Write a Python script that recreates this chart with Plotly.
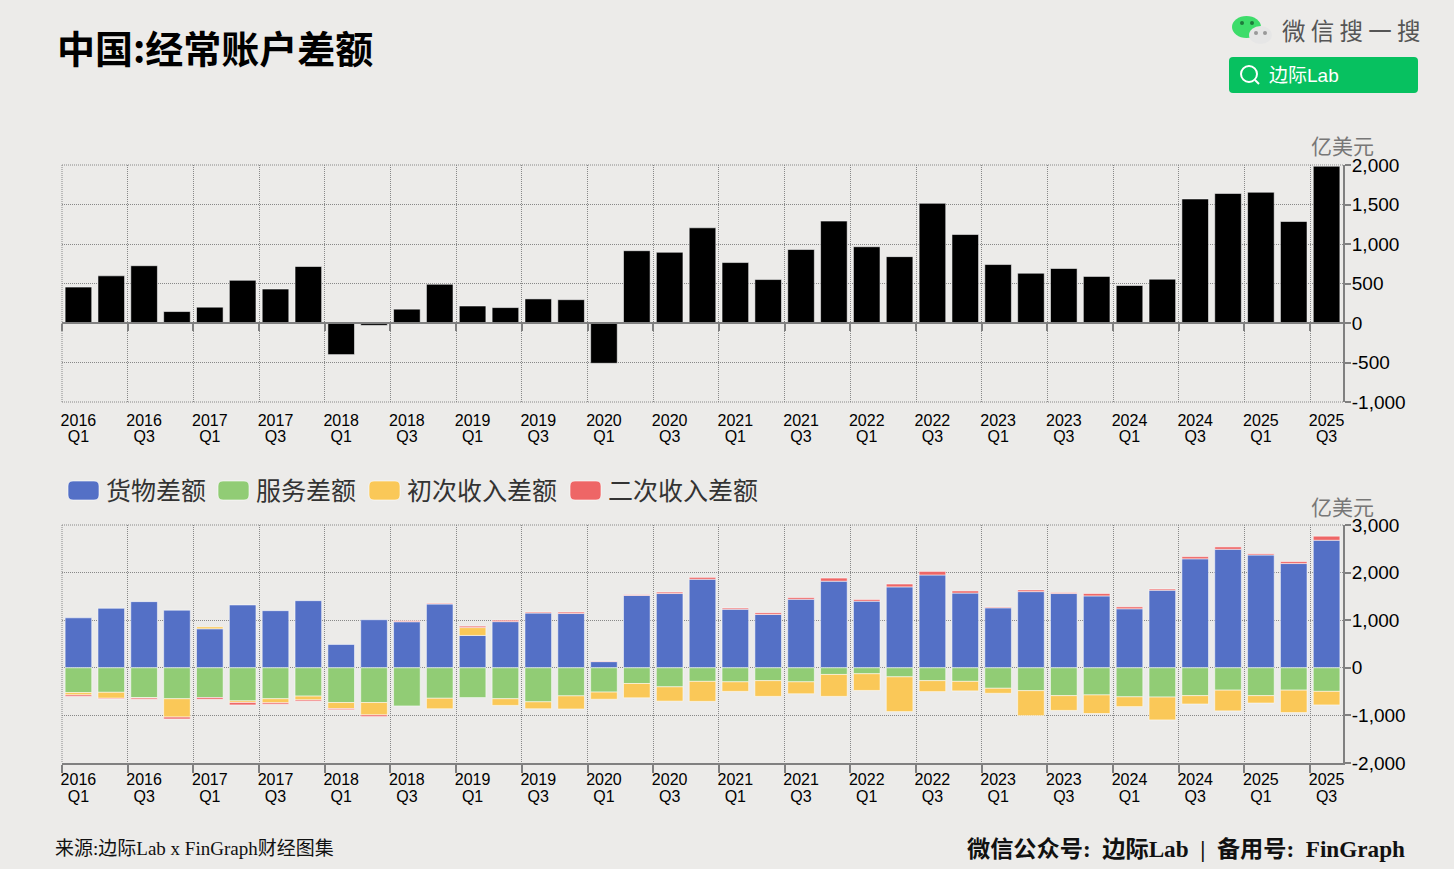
import plotly.graph_objects as go

quarters = [f"{y} Q{q}" for y in range(2016, 2026) for q in (1, 2, 3, 4)][:39]

# current account balance
total = [455, 597, 725, 145, 200, 540, 430, 715, -400, -30, 175, 490, 215, 195, 305, 295,
         -510, 915, 895, 1205, 765, 550, 930, 1290, 965, 840, 1515, 1120, 740, 630, 690, 590,
         475, 555, 1570, 1640, 1655, 1285, 1985]

# components
goods = [1050, 1250, 1390, 1210, 820, 1320, 1200, 1410, 490, 1010, 970, 1340, 680, 970, 1150, 1140,
         130, 1520, 1560, 1860, 1230, 1120, 1440, 1820, 1400, 1700, 1950, 1570, 1260, 1600, 1560, 1510,
         1240, 1630, 2290, 2490, 2370, 2190, 2680]
services = [-520, -515, -630, -650, -625, -695, -650, -595, -730, -730, -800, -640, -625, -650, -715, -590,
            -510, -330, -400, -285, -295, -270, -295, -140, -125, -190, -270, -285, -430, -480, -585, -570,
            -610, -615, -585, -470, -585, -470, -495]
primary = [-50, -125, -5, -385, 40, -35, -85, -80, -125, -260, 0, -220, 165, -140, -145, -275,
           -150, -300, -300, -420, -200, -330, -250, -460, -350, -730, -230, -200, -105, -525, -310, -390,
           -205, -480, -175, -435, -155, -470, -285]
secondary = [-30, -15, -25, -40, -35, -50, -30, -25, -25, -35, 20, 15, 30, 30, 20, 30,
             10, 15, 30, 40, 25, 35, 35, 65, 35, 60, 75, 45, 15, 35, 20, 50,
             40, 25, 45, 50, 25, 40, 85]

top_ticks = [-1000, -500, 0, 500, 1000, 1500, 2000]
top_labels = ["-1,000", "-500", "0", "500", "1,000", "1,500", "2,000"]
bottom_ticks = [-2000, -1000, 0, 1000, 2000, 3000]
bottom_labels = ["-2,000", "-1,000", "0", "1,000", "2,000", "3,000"]

series_names = ["货物差额", "服务差额", "初次收入差额", "二次收入差额"]
series_values = [goods, services, primary, secondary]
series_colors = ["#5470C6", "#91CC75", "#FAC858", "#EE6666"]

W, H = 1454, 869
BG = "#ECEBE9"
GREY = "#808080"
DOT = "#888888"
SANS = "Liberation Sans, Noto Sans CJK SC"
CJK = "Noto Sans CJK SC"
SERIF = "Liberation Serif, Noto Sans CJK SC"


def px(x):
    return x / W


def py(y):
    return 1 - y / H


def round_rect(x0, y0, x1, y1, r):
    a, b, c, d = px(x0), py(y0), px(x1), py(y1)
    rx, ry = r / W, r / H
    return (f"M{a+rx},{b} L{c-rx},{b} Q{c},{b} {c},{b-ry} L{c},{d+ry} Q{c},{d} {c-rx},{d} "
            f"L{a+rx},{d} Q{a},{d} {a},{d+ry} L{a},{b-ry} Q{a},{b} {a+rx},{b} Z")


def text(x, y, s, size, color="#000", family=CJK, anchor="left"):
    fig.add_annotation(x=px(x), y=py(y), xref="paper", yref="paper", text=s, showarrow=False,
                       xanchor=anchor, yanchor="middle", font=dict(size=size, color=color, family=family))


def dotted(x0, y0, x1, y1):
    # plotly drops gridlines that sit on the edge of the plot area
    fig.add_shape(type="line", xref="paper", yref="paper", x0=px(x0), x1=px(x1), y0=py(y0), y1=py(y1),
                  line=dict(color=DOT, width=1, dash="1px,1px"), layer="below")


fig = go.Figure()

bar_line = dict(color="rgba(255,255,255,0.75)", width=0.7)
fig.add_trace(go.Bar(x=quarters, y=total, marker=dict(color="#000000", line=bar_line),
                     width=0.81, xaxis="x", yaxis="y", showlegend=False))
for name, vals, col in zip(series_names, series_values, series_colors):
    fig.add_trace(go.Bar(x=quarters, y=vals, name=name, marker=dict(color=col, line=bar_line),
                         width=0.81, xaxis="x2", yaxis="y2", showlegend=False))

# extra axes only carry the second label line and the zero-line ticks
for xa, ya in [("x3", "y"), ("x4", "y2"), ("x5", "y")]:
    fig.add_trace(go.Scatter(x=quarters, y=[0] * len(quarters), mode="lines", line=dict(width=0),
                             xaxis=xa, yaxis=ya, showlegend=False, hoverinfo="skip"))

year_alias = {q: q[:4] for q in quarters}
quarter_alias = {q: q[5:] for q in quarters}
dom_x = [px(62), px(1343)]
top_dom = [py(402), py(165)]
bot_dom = [py(763), py(525)]
x_common = dict(type="category", categoryorder="array", categoryarray=quarters, domain=dom_x,
                range=[-0.5, 38.5], tickson="boundaries", dtick=2, tick0=0, tickangle=0,
                tickfont=dict(size=16, family=SANS, color="#000"))
grid = dict(showgrid=True, gridcolor=DOT, griddash="1px,1px", gridwidth=1)
y_common = dict(side="right", zeroline=False, showline=True, linecolor=GREY, linewidth=2,
                ticks="outside", ticklen=6, tickcolor=GREY, tickwidth=2, tickmode="array",
                ticklabelstandoff=-3, tickfont=dict(size=19, family=SANS, color="#000"), **grid)

fig.update_layout(
    width=W, height=H, margin=dict(l=0, r=0, t=0, b=0, autoexpand=False), paper_bgcolor=BG, plot_bgcolor=BG,
    barmode="relative", showlegend=False,
    xaxis=dict(**x_common, **grid, anchor="y", ticks="", labelalias=year_alias, ticklabelstandoff=7),
    xaxis2=dict(**x_common, **grid, anchor="y2", ticks="outside", ticklen=8, tickcolor=GREY, tickwidth=2,
                showline=True, linecolor=GREY, linewidth=2, labelalias=year_alias, ticklabelstandoff=1),
    xaxis3=dict(**x_common, anchor="y", overlaying="x", showgrid=False, ticks="",
                labelalias=quarter_alias, ticklabelstandoff=23),
    xaxis4=dict(**x_common, anchor="y2", overlaying="x2", showgrid=False, ticks="", ticklen=8,
                labelalias=quarter_alias, ticklabelstandoff=22),
    xaxis5=dict(**x_common, anchor="free", position=py(323),
                overlaying="x", showgrid=False, showticklabels=False, ticks="outside", ticklen=7,
                tickcolor=GREY, tickwidth=2, showline=True, linecolor=GREY, linewidth=2),
    yaxis=dict(**y_common, anchor="x", domain=top_dom, range=[-1000, 2000], tickvals=top_ticks, ticktext=top_labels),
    yaxis2=dict(**y_common, anchor="x2", domain=bot_dom, range=[-2000, 3000], tickvals=bottom_ticks, ticktext=bottom_labels),
)

# edges of the dotted frames
dotted(62, 165, 1343, 165)
dotted(62, 402, 1343, 402)
dotted(62, 165, 62, 402)
dotted(62, 525, 1343, 525)
dotted(62, 525, 62, 763)

# title, units, footer
text(55, 46, "<b>中国:经常账户差额</b>", 38)
text(1342, 145, "亿美元", 21, "#777777", anchor="center")
text(1342, 506, "亿美元", 21, "#777777", anchor="center")
text(53, 848, "来源:边际Lab x FinGraph财经图集", 19, "#111", SERIF)
text(1407, 849, "<b>微信公众号:  边际Lab  |  备用号:  FinGraph</b>", 23.2, "#111", SERIF, "right")

# legend keys and labels
for x0, s, col, name in zip([68, 218, 369, 570], [104, 254, 405, 606], series_colors, series_names):
    fig.add_shape(type="path", path=round_rect(x0, 481, x0 + 31, 500, 5), xref="paper", yref="paper",
                  fillcolor=col, line=dict(color="rgba(255,255,255,0.6)", width=1))
    text(s, 489, name, 25, "#333333")

# wechat search badge
text(1280, 30, "微 信 搜 一 搜", 23.5, "#555555")
fig.add_shape(type="path", path=round_rect(1229, 57, 1418, 93, 4), xref="paper", yref="paper",
              fillcolor="#07C160", line=dict(width=0))
fig.add_shape(type="circle", xref="paper", yref="paper", x0=px(1241), x1=px(1257), y0=py(82), y1=py(66),
              line=dict(color="#fff", width=2))
fig.add_shape(type="line", xref="paper", yref="paper", x0=px(1255), x1=px(1259), y0=py(80), y1=py(84),
              line=dict(color="#fff", width=2))
text(1267, 75, "边际Lab", 19, "#ffffff", SANS)
fig.add_shape(type="circle", xref="paper", yref="paper", x0=px(1232), x1=px(1261), y0=py(38), y1=py(16),
              fillcolor="#3DDC6A", line=dict(width=0))
fig.add_shape(type="circle", xref="paper", yref="paper", x0=px(1249), x1=px(1272), y0=py(44), y1=py(26),
              fillcolor="#E6E6E6", line=dict(width=0))
for cx, cy, col in [(1242, 23, "#1E7A3C"), (1252, 23, "#1E7A3C"), (1256, 33, "#999"), (1265, 33, "#999")]:
    fig.add_shape(type="circle", xref="paper", yref="paper", x0=px(cx - 2), x1=px(cx + 2), y0=py(cy + 2), y1=py(cy - 2),
                  fillcolor=col, line=dict(width=0))

fig.write_html("out.html", config=dict(displayModeBar=False),
               post_script="document.body.style.margin='0';document.body.style.overflow='hidden';")
